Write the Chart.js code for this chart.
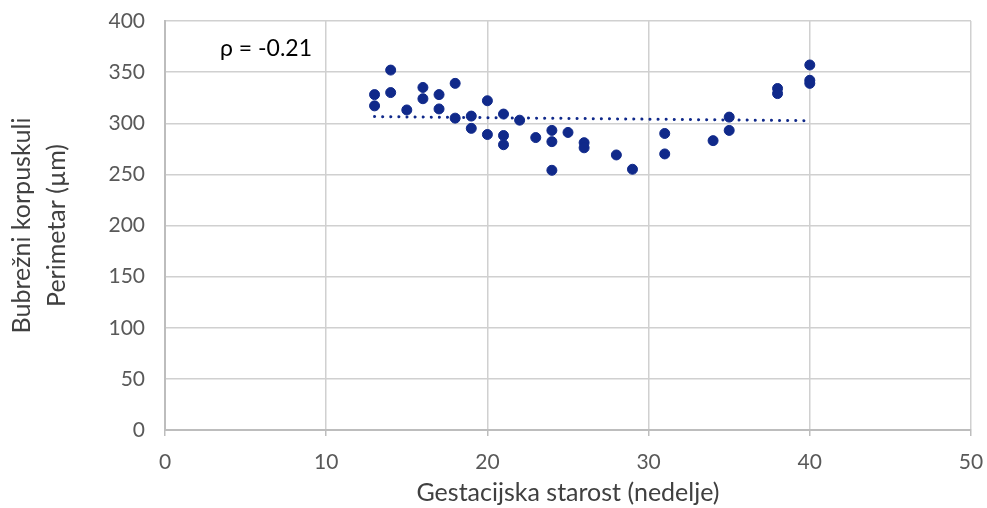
<!DOCTYPE html>
<html>
<head>
	<title>Bubrežni korpuskuli - perimetar</title>
	<script src="https://cdn.jsdelivr.net/npm/chart.js"></script>
	<style>
		body { margin: 0; background: #fff; }
		#wrap { width: 987px; height: 508px; }
	</style>
</head>
<body>
	<div id="wrap"><canvas id="perimChart" width="987" height="508"></canvas></div>
	<script>
		// gestacijska starost (nedelje) i perimetar (µm), procitano sa grafika
		var weeks     = [13, 13, 14, 14, 15, 16, 16, 17, 17, 18, 18, 19, 19, 20, 20, 21, 21, 21, 22, 23, 24, 24, 24, 25, 26, 26, 28, 29, 31, 31, 34, 35, 35, 38, 38, 40, 40, 40];
		var perimeter = [328, 317, 352, 330, 313, 335, 324, 328, 314, 339, 305, 307, 295, 322, 289, 309, 288, 279, 303, 286, 293, 282, 254, 291, 281, 276, 269, 255, 290, 270, 283, 306, 293, 334, 329, 357, 342, 339];
		var trendX = [13, 40];
		var trendY = [306.5, 302.5];
		var rhoLabel = 'ρ = -0.21';

		var blue = '#10298a';
		var font = 'Lato, "Open Sans", sans-serif';

		var rhoPlugin = {
			id: 'rho',
			afterDraw: function(chart) {
				var c = chart.ctx;
				c.save();
				c.font = '23px ' + font;
				c.fillStyle = '#000';
				c.textBaseline = 'middle';
				c.fillText(rhoLabel, chart.chartArea.left + 55, chart.chartArea.top + 28);
				c.restore();
			}
		};

		var ctx = document.getElementById('perimChart').getContext('2d');
		var chart = new Chart(ctx, {
			type: 'scatter',
			data: {
				datasets: [{
					label: 'Perimetar',
					data: weeks.map(function(w, i) { return { x: w, y: perimeter[i] }; }),
					backgroundColor: blue,
					borderColor: blue,
					pointRadius: 5,
					pointHoverRadius: 5,
					order: 1
				}, {
					label: 'Trend',
					type: 'line',
					data: trendX.map(function(x, i) { return { x: x, y: trendY[i] }; }),
					borderColor: blue,
					borderWidth: 3,
					borderDash: [0.1, 8],
					borderCapStyle: 'round',
					pointRadius: 0,
					fill: false,
					order: 2
				}]
			},
			options: {
				responsive: false,
				animation: false,
				layout: { padding: { left: 0, right: 16, top: 21, bottom: 0 } },
				plugins: {
					legend: { display: false },
					tooltip: { enabled: false }
				},
				scales: {
					x: {
						type: 'linear',
						min: 0,
						max: 50,
						ticks: { stepSize: 10, color: '#595959', font: { family: font, size: 21 }, padding: 14 },
						grid: { color: '#d0d0d0', lineWidth: 1.5, tickLength: 6, tickColor: '#bdbdbd' },
						border: { color: '#bdbdbd', width: 2 },
						title: { display: true, text: 'Gestacijska starost (nedelje)', color: '#404040', font: { family: font, size: 25 }, padding: { top: 0, bottom: 0 } },
						afterFit: function(scale) {
							scale.height = 78;
							scale.paddingLeft = 0;
							scale.paddingRight = 0;
						}
					},
					y: {
						min: 0,
						max: 400,
						ticks: { stepSize: 50, color: '#595959', font: { family: font, size: 21 }, padding: 20 },
						grid: { color: '#d0d0d0', lineWidth: 1.5, tickLength: 0, drawTicks: false },
						border: { color: '#bdbdbd', width: 2 },
						title: { display: true, text: ['Bubrežni korpuskuli', 'Perimetar (µm)'], color: '#404040', font: { family: font, size: 25, lineHeight: 1.4 }, padding: { top: 4, bottom: 0 } },
						afterFit: function(scale) {
							scale.width = 165;
							scale.paddingTop = 0;
							scale.paddingBottom = 0;
						}
					}
				}
			},
			plugins: [rhoPlugin]
		});
	</script>
</body>
</html>
